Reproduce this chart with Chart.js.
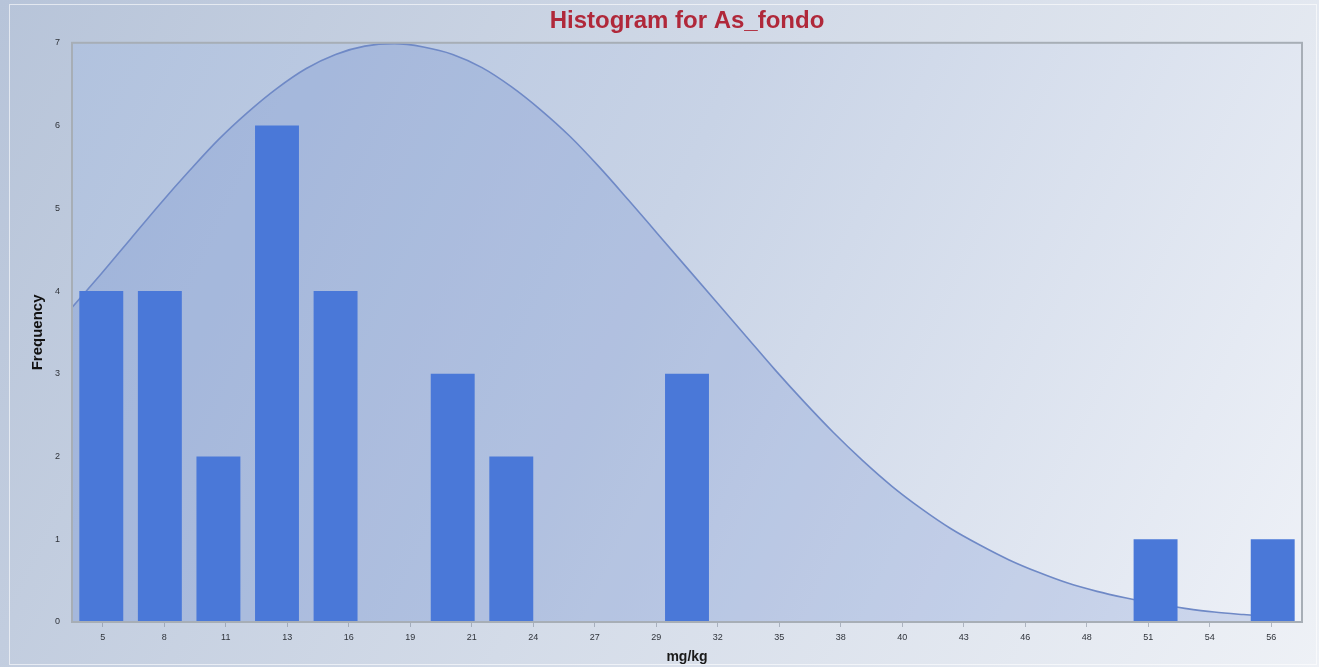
<!DOCTYPE html>
<html>
<head>
<meta charset="utf-8">
<title>Histogram for As_fondo</title>
<script src="https://cdn.jsdelivr.net/npm/chart.js@4/dist/chart.umd.min.js"></script>
<style>
    html, body { margin: 0; padding: 0; background: #dfe5ee; }
    #wrap { width: 1319px; height: 667px; }
</style>
</head>
<body>
<div id="wrap"><canvas id="histChart" width="1319" height="667"></canvas></div>
<script>
// histogram bins (approx. bin centres, mg/kg) and counts
const binCenters = ['4.9', '7.5', '10.0', '12.6', '15.1', '17.7', '20.2', '22.8', '25.3', '27.9', '30.4',
    '33.0', '35.5', '38.1', '40.6', '43.2', '45.7', '48.3', '50.8', '53.4', '55.9'];
const frequencies = [4, 4, 2, 6, 4, 0, 3, 2, 0, 0, 3, 0, 0, 0, 0, 0, 0, 0, 1, 0, 1];

// x axis tick labels as printed under the plot
const tickLabels = ['5', '8', '11', '13', '16', '19', '21', '24', '27', '29', '32', '35', '38', '40', '43',
    '46', '48', '51', '54', '56'];

// normal curve (position in bin units, frequency)
const curvePos = [-0.5, 0, 0.5, 1, 1.5, 2, 2.5, 3, 3.5, 4, 4.5, 5, 5.5, 6, 6.5, 7, 7.5, 8, 8.5, 9, 9.5,
    10, 10.5, 11, 11.5, 12, 12.5, 13, 13.5, 14, 14.5, 15, 15.5, 16, 16.5, 17, 17.5, 18, 18.5, 19, 19.5, 20];
const curveFreq = [3.80, 4.21, 4.63, 5.05, 5.45, 5.83, 6.16, 6.45, 6.69, 6.86, 6.96, 6.99, 6.95, 6.86, 6.70,
    6.47, 6.19, 5.87, 5.50, 5.10, 4.69, 4.28, 3.87, 3.46, 3.05, 2.66, 2.29, 1.95, 1.64, 1.37, 1.13, 0.93,
    0.75, 0.60, 0.47, 0.37, 0.29, 0.22, 0.165, 0.12, 0.09, 0.065];

const yTicks = [0, 1, 2, 3, 4, 5, 6, 7];

// paints the panel and plot backgrounds
const backdrop = {
    id: 'backdrop',
    beforeDraw(chart) {
        const ctx = chart.ctx;
        const w = chart.width, h = chart.height;
        ctx.save();
        let g = ctx.createLinearGradient(0, 0, w, h);
        g.addColorStop(0, '#b7c4d9');
        g.addColorStop(0.5, '#d3dbe8');
        g.addColorStop(1, '#eef1f6');
        ctx.fillStyle = g;
        ctx.fillRect(0, 0, w, h);
        ctx.strokeStyle = 'rgba(255,255,255,0.6)';
        ctx.lineWidth = 1;
        ctx.strokeRect(9.5, 4.5, w - 12, h - 7);

        const a = chart.chartArea;
        g = ctx.createLinearGradient(a.left, a.top, a.right, a.bottom);
        g.addColorStop(0, '#b1c2de');
        g.addColorStop(0.45, '#c8d3e6');
        g.addColorStop(1, '#eef1f7');
        ctx.fillStyle = g;
        ctx.fillRect(a.left, a.top, a.right - a.left, a.bottom - a.top);
        ctx.restore();
    },
    afterDraw(chart) {
        const ctx = chart.ctx;
        const a = chart.chartArea;
        ctx.save();
        ctx.strokeStyle = '#a7aeb6';
        ctx.lineWidth = 2;
        ctx.strokeRect(a.left, a.top, a.right - a.left, a.bottom - a.top);
        ctx.restore();
    }
};

const ctx = document.getElementById('histChart').getContext('2d');
const chart = new Chart(ctx, {
    data: {
        labels: binCenters,
        datasets: [
            {
                type: 'bar',
                data: frequencies,
                xAxisID: 'x',
                yAxisID: 'y',
                backgroundColor: '#4a78d8',
                borderWidth: 0,
                grouped: false,
                barPercentage: 0.75,
                categoryPercentage: 1.0,
                order: 0
            },
            {
                type: 'line',
                data: curvePos.map((p, i) => ({ x: p, y: curveFreq[i] })),
                xAxisID: 'xc',
                yAxisID: 'y',
                borderColor: '#6f89c6',
                borderWidth: 1.6,
                backgroundColor: 'rgba(85, 120, 200, 0.2)',
                fill: 'origin',
                pointRadius: 0,
                cubicInterpolationMode: 'monotone',
                order: 1
            }
        ]
    },
    options: {
        responsive: false,
        animation: false,
        layout: { padding: { left: 10, right: 17, top: 2, bottom: 4 } },
        plugins: {
            legend: { display: false },
            tooltip: { enabled: false },
            title: {
                display: true,
                text: 'Histogram for As_fondo',
                color: '#b0283a',
                fullSize: false,
                font: { family: 'Liberation Sans', size: 24, weight: 'bold' },
                padding: { top: 5, bottom: 7 }
            }
        },
        scales: {
            x: {
                type: 'category',
                display: false,
                offset: true
            },
            xc: {
                type: 'linear',
                display: false,
                offset: false,
                min: -0.5,
                max: 20.5
            },
            xl: {
                type: 'category',
                labels: tickLabels,
                position: 'bottom',
                offset: true,
                afterFit(scale) { scale.height = 41; },
                border: { display: false },
                grid: { drawOnChartArea: false, offset: false, tickLength: 5, color: 'rgba(120,130,145,0.5)' },
                ticks: {
                    color: '#2f333a',
                    padding: 5,
                    maxRotation: 0,
                    autoSkip: false,
                    font: { family: 'Liberation Sans', size: 9 }
                },
                title: {
                    display: true,
                    text: 'mg/kg',
                    color: '#1a1a1a',
                    font: { family: 'Liberation Sans', size: 14, weight: 'bold' },
                    padding: { top: 0, bottom: -3 }
                }
            },
            y: {
                min: 0,
                max: 7,
                afterFit(scale) { scale.width = 62; },
                afterBuildTicks(scale) { scale.ticks = yTicks.map(v => ({ value: v })); },
                border: { display: false },
                grid: { display: false },
                ticks: {
                    color: '#2f333a',
                    padding: 4,
                    font: { family: 'Liberation Sans', size: 9 }
                },
                title: {
                    display: true,
                    text: 'Frequency',
                    color: '#111',
                    font: { family: 'Liberation Sans', size: 15, weight: 'bold' },
                    padding: { top: 19, bottom: 0 }
                }
            }
        }
    },
    plugins: [backdrop]
});
</script>
</body>
</html>
